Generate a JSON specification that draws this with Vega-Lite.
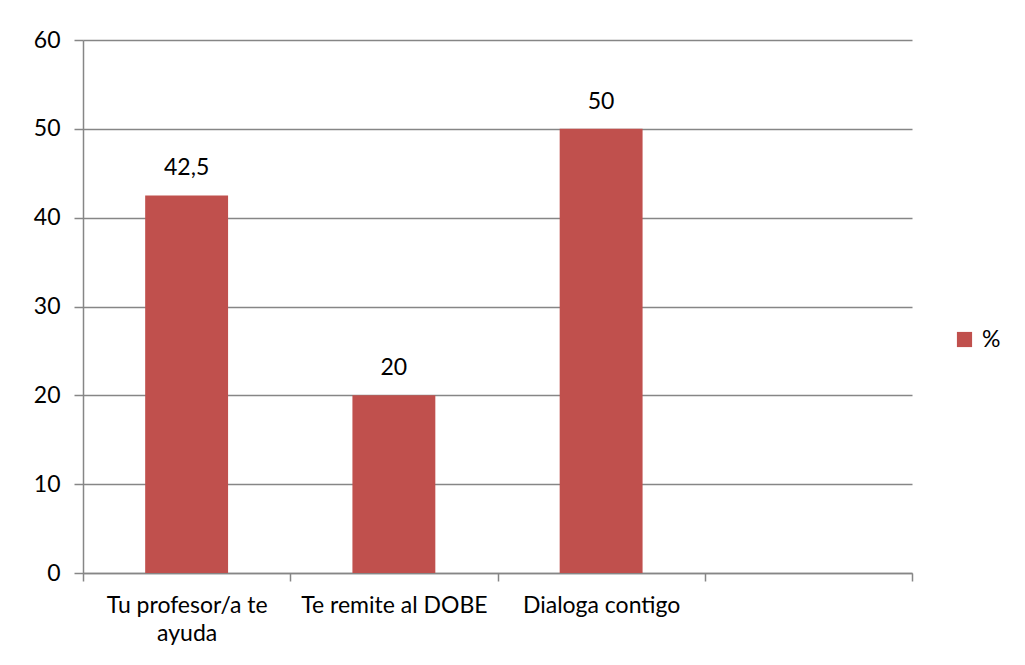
{
  "$schema": "https://vega.github.io/schema/vega-lite/v6.json",
  "width": 829,
  "height": 533,
  "autosize": "none",
  "padding": {"left": 83, "top": 40, "right": 113, "bottom": 92},
  "background": "white",
  "data": {
    "values": [
      {"categoria": "Tu profesor/a te ayuda", "valor": 42.5, "etiqueta": "42,5", "serie": "%"},
      {"categoria": "Te remite al DOBE", "valor": 20, "etiqueta": "20", "serie": "%"},
      {"categoria": "Dialoga contigo", "valor": 50, "etiqueta": "50", "serie": "%"}
    ]
  },
  "config": {
    "view": {"stroke": null},
    "font": "Lato",
    "axis": {
      "labelFont": "Lato",
      "labelFontSize": 23,
      "labelColor": "#000000",
      "domainColor": "#868686",
      "tickColor": "#868686",
      "gridColor": "#868686",
      "domainWidth": 1.5,
      "tickWidth": 1.5,
      "gridWidth": 1.5
    }
  },
  "encoding": {
    "x": {
      "field": "categoria",
      "type": "nominal",
      "sort": null,
      "scale": {"domain": ["Tu profesor/a te ayuda", "Te remite al DOBE", "Dialoga contigo", " "], "paddingInner": 0, "paddingOuter": 0},
      "axis": {
        "title": null,
        "labelAngle": 0,
        "tickBand": "extent",
        "tickSize": 8,
        "labelPadding": 13,
        "grid": false,
        "labelLimit": 400,
        "labelOverlap": false,
        "labelExpr": "datum.value == 'Tu profesor/a te ayuda' ? ['Tu profesor/a te', 'ayuda'] : datum.value",
        "labelLineHeight": 28,
        "labelBaseline": "top"
      }
    }
  },
  "layer": [
    {
      "mark": {"type": "bar", "width": {"band": 0.4}, "color": "#C0504D"},
      "encoding": {
        "y": {
          "field": "valor",
          "type": "quantitative",
          "scale": {"domain": [0, 60], "nice": false},
          "axis": {
            "title": null,
            "values": [0, 10, 20, 30, 40, 50, 60],
            "grid": true,
            "tickSize": 9,
            "labelPadding": 14
          }
        },
        "color": {
          "field": "serie",
          "type": "nominal",
          "scale": {"range": ["#C0504D"]},
          "legend": {
            "title": null,
            "orient": "none",
            "legendX": 870,
            "legendY": 288,
            "symbolType": "square",
            "symbolSize": 230,
            "symbolStrokeWidth": 0,
            "labelFont": "Lato",
            "labelFontSize": 23,
            "labelColor": "#000000",
            "labelOffset": 6
          }
        }
      }
    },
    {
      "mark": {"type": "text", "baseline": "middle", "dy": -27, "font": "Lato", "fontSize": 23, "color": "#000000"},
      "encoding": {
        "y": {"field": "valor", "type": "quantitative"},
        "text": {"field": "etiqueta", "type": "nominal"}
      }
    }
  ]
}
